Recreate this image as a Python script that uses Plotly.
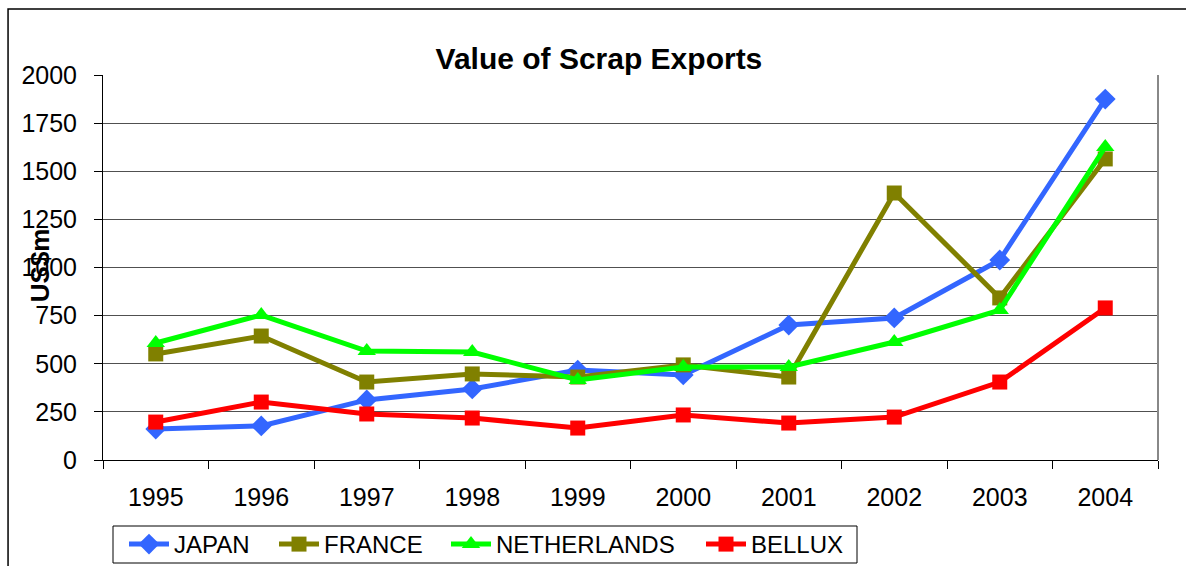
import plotly.graph_objects as go

years = ["1995", "1996", "1997", "1998", "1999", "2000", "2001", "2002", "2003", "2004"]
japan = [161, 177, 312, 369, 467, 442, 701, 738, 1039, 1875]
france = [551, 644, 405, 447, 431, 494, 431, 1387, 842, 1564]
netherlands = [608, 753, 566, 561, 416, 483, 483, 613, 779, 1626]
bellux = [197, 301, 239, 218, 166, 234, 192, 223, 405, 790]

series = [
    ("JAPAN", japan, "#3366FF", "diamond", 16),
    ("FRANCE", france, "#808000", "square", 15),
    ("NETHERLANDS", netherlands, "#00FF00", "triangle-up", 16),
    ("BELLUX", bellux, "#FF0000", "square", 15),
]
legend_x_px = [124, 274, 446, 701]

FONT = "Liberation Sans, Arial, sans-serif"
W, H = 1186, 566
L, R, T, B = 103, 28, 75, 106
PW, PH = W - L - R, H - T - B

fig = go.Figure()
legend_layouts = {}
for i, (name, vals, color, sym, size) in enumerate(series):
    lname = "legend" if i == 0 else f"legend{i + 1}"
    fig.add_trace(go.Scatter(
        x=years, y=vals, name=name, mode="lines+markers",
        line=dict(color=color, width=5),
        marker=dict(symbol=sym, size=size, color=color),
        legend=lname,
    ))
    legend_layouts[lname] = dict(
        orientation="h", xref="container", yref="container",
        x=legend_x_px[i] / W, y=1 - 522 / H, xanchor="left", yanchor="top",
        borderwidth=0, bgcolor="rgba(0,0,0,0)",
        font=dict(size=24, family=FONT, color="black"), itemwidth=40,
    )

fig.update_layout(
    width=W, height=H,
    margin=dict(l=L, r=R, t=T, b=B),
    paper_bgcolor="white", plot_bgcolor="white",
    font=dict(family=FONT, size=25, color="black"),
    title=dict(text="<b>Value of Scrap Exports</b>", x=0.505, xanchor="center",
               y=0.897, yanchor="middle", font=dict(size=30, family=FONT)),
    showlegend=True,
    **legend_layouts,
)

fig.update_xaxes(
    type="category", range=[-0.5, 9.5], tickson="boundaries", ticks="outside", ticklen=8,
    tickcolor="black", showline=True, linecolor="black", linewidth=1,
    showgrid=False, tickfont=dict(size=25), ticklabelstandoff=15,
)
fig.update_yaxes(
    range=[0, 2000], dtick=250, tick0=0, ticks="outside", ticklen=8,
    tickcolor="black", showline=True, linecolor="black", linewidth=1,
    showgrid=True, gridcolor="#505050", gridwidth=1, zeroline=False,
    tickfont=dict(size=25), ticklabelstandoff=12,
)

# right border of plot area
fig.add_shape(type="line", xref="paper", yref="paper", x0=1, x1=1, y0=0, y1=1,
              line=dict(color="#888888", width=2))
# outer chart frame
fig.add_shape(type="rect", xref="paper", yref="paper", x0=-0.09, x1=1.1, y0=-0.5, y1=1.1714,
              line=dict(color="black", width=1.5), layer="below")
# legend box
fig.add_shape(type="rect", xref="paper", yref="paper",
              x0=(113 - L) / PW, x1=(857 - L) / PW,
              y0=(H - B - 563) / PH, y1=(H - B - 526) / PH,
              line=dict(color="black", width=1), layer="below")

fig.add_annotation(text="<b>US$m</b>", xref="paper", yref="paper", x=-0.0597, y=0.506,
                   textangle=-90, showarrow=False, font=dict(size=26, family=FONT),
                   xanchor="center", yanchor="middle")

fig.write_html("out.html", config={"displayModeBar": False},
               post_script="document.body.style.margin='0';document.body.style.overflow='hidden';")
